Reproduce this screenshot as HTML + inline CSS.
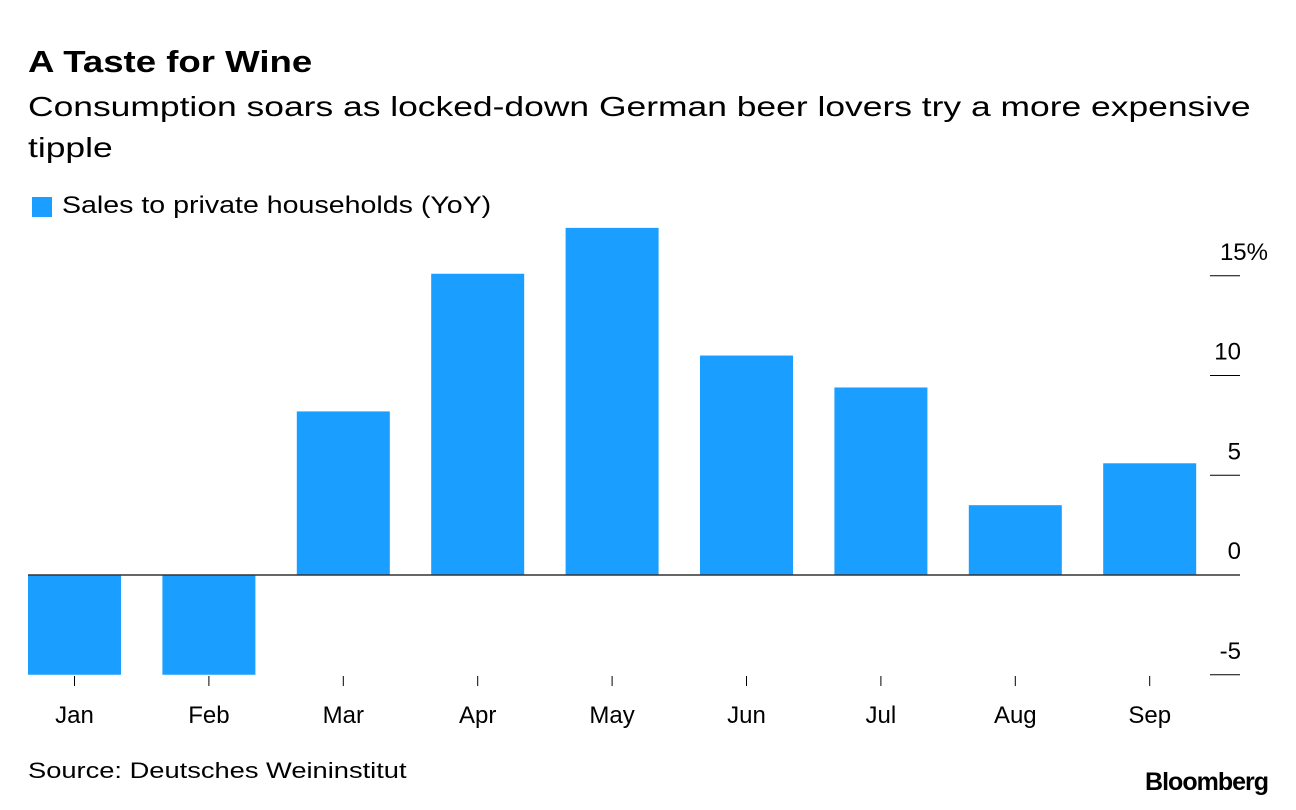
<!DOCTYPE html>
<html><head><meta charset="utf-8"><style>
body{margin:0;background:#fff;font-family:"Liberation Sans",Arial,sans-serif;}
#wrap{position:relative;width:1296px;height:810px;overflow:hidden;}
.t{position:absolute;white-space:nowrap;color:#000;transform-origin:left top;}
</style></head><body>
<div id="wrap">
<div class="t" style="left:28px;top:44px;font-size:31px;font-weight:bold;transform:scaleX(1.18)">A Taste for Wine</div>
<div class="t" style="left:28px;top:86px;font-size:28px;line-height:41px;white-space:normal;width:990px;transform:scaleX(1.265)">Consumption soars as locked-down German beer lovers try a more expensive tipple</div>
<div style="position:absolute;left:32px;top:197px;width:20px;height:20px;background:#1a9eff"></div>
<div class="t" style="left:62px;top:192px;font-size:24px;transform:scaleX(1.19)">Sales to private households (YoY)</div>
<svg id="chart" width="1296" height="810" style="position:absolute;left:0;top:0"></svg>
<div class="t" style="left:28px;top:758px;font-size:22px;transform:scaleX(1.24)">Source: Deutsches Weininstitut</div>
<div class="t" style="right:28px;top:768px;font-size:25px;font-weight:bold;letter-spacing:-1px">Bloomberg</div>
</div>
<script>
const categories=["Jan","Feb","Mar","Apr","May","Jun","Jul","Aug","Sep"];
const values=[-5,-5,8.2,15.1,17.4,11.0,9.4,3.5,5.6];
const tickValues=[-5,0,5,10,15];
const tickLabels=["-5","0","5","10","15%"];
const svg=document.getElementById('chart');
const NS="http://www.w3.org/2000/svg";
const y=v=>575-v*19.95;
const x0=28,step=134.4,bw=93;
const x=i=>x0+i*step;
function mk(t,a){const e=document.createElementNS(NS,t);for(const k in a)e.setAttribute(k,a[k]);svg.appendChild(e);return e;}
tickValues.forEach((v,i)=>{
 const l=mk('line',{x1:1210,x2:1240,y1:y(v),y2:y(v),stroke:'#000','stroke-width':1});
 
 
 const t=mk('text',{x:1241,y:y(v)-16,'text-anchor':'end','font-size':24,'font-family':'Liberation Sans, sans-serif'});
 t.textContent=tickLabels[i];
 if(tickLabels[i].includes('%'))t.setAttribute('x',1268);
 
 
});
values.forEach((v,i)=>{
 const r=mk('rect',{x:x(i),y:Math.min(y(v),y(0)),width:bw,height:Math.abs(y(v)-y(0)),fill:'#1a9eff'});
 
 
 const cx=x(i)+bw/2;
 const tk=mk('line',{x1:cx,x2:cx,y1:676,y2:686,stroke:'#000','stroke-width':1});
 
 
 const t=mk('text',{x:cx,y:723,'text-anchor':'middle','font-size':24,'font-family':'Liberation Sans, sans-serif'});
 t.textContent=categories[i];
 
 
});
const z=mk('line',{x1:28,x2:1240,y1:y(0),y2:y(0),stroke:'#333','stroke-width':1.5});


</script>
</body></html>
